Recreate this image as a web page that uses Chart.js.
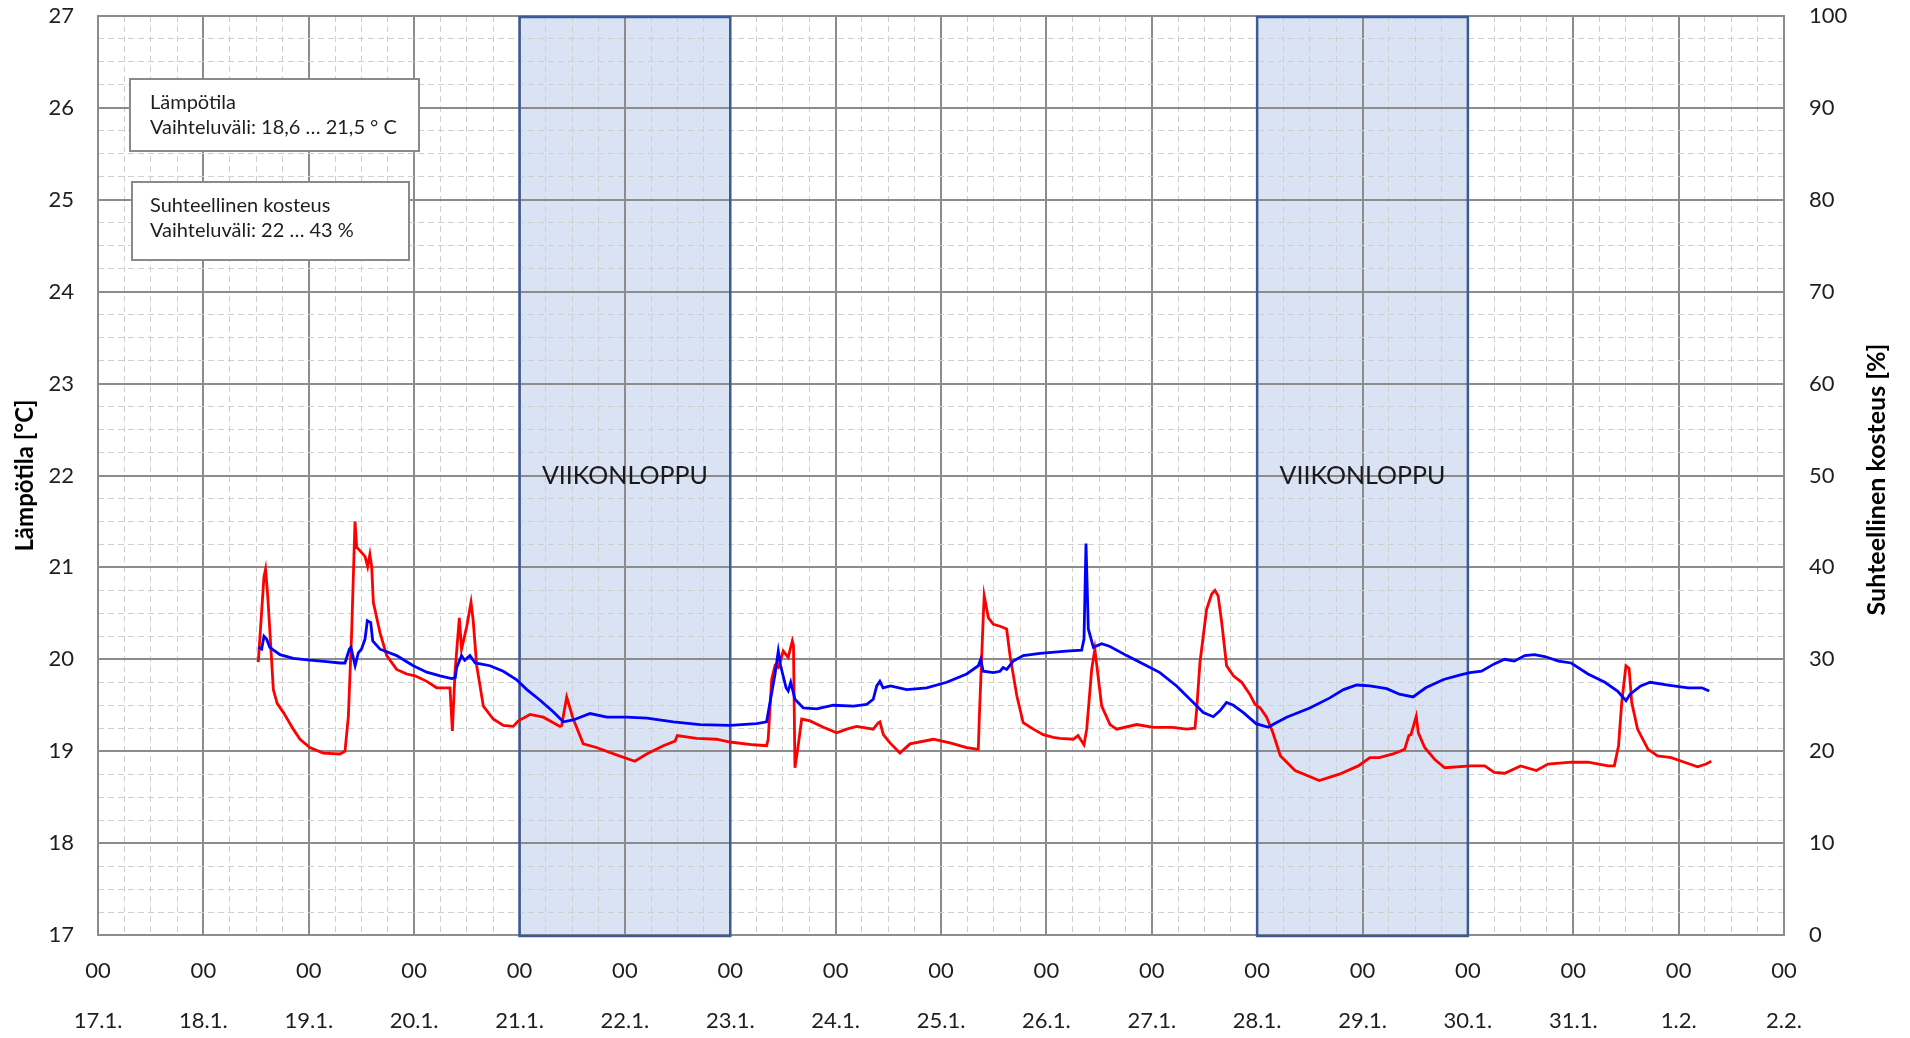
<!DOCTYPE html>
<html>
<head>
<meta charset="utf-8">
<script src="https://cdn.jsdelivr.net/npm/chart.js@4"></script>
<style>
  html, body { margin: 0; padding: 0; background: #ffffff; }
  #wrap { width: 1910px; height: 1038px; position: relative; }
</style>
</head>
<body>
<div id="wrap"><canvas id="c"></canvas></div>
<script>
// ---------- DATA ----------
// x values: days since 17.1. 00:00
const hourLabels = ['00','00','00','00','00','00','00','00','00','00','00','00','00','00','00','00','00'];
const dateLabels = ['17.1.','18.1.','19.1.','20.1.','21.1.','22.1.','23.1.','24.1.','25.1.','26.1.','27.1.','28.1.','29.1.','30.1.','31.1.','1.2.','2.2.'];

const weekendStart = [4, 11];
const weekendEnd = [6, 13];
const weekendText = ['VIIKONLOPPU', 'VIIKONLOPPU'];

const tempDays = [1.521,1.575,1.59,1.61,1.632,1.664,1.70,1.76,1.853,1.917,2.01,2.138,2.297,2.344,2.376,2.407,2.439,2.455,2.534,2.559,2.58,2.597,2.613,2.676,2.74,2.834,2.93,3.008,3.12,3.214,3.34,3.363,3.388,3.429,3.45,3.50,3.54,3.56,3.594,3.657,3.75,3.846,3.94,3.99,4.10,4.226,4.384,4.40,4.448,4.51,4.605,4.73,4.92,5.094,5.207,5.365,5.476,5.498,5.68,5.87,5.997,6.218,6.345,6.36,6.393,6.425,6.456,6.503,6.55,6.589,6.60,6.614,6.64,6.678,6.757,6.883,7.01,7.105,7.2,7.357,7.405,7.42,7.453,7.516,7.61,7.706,7.927,8.085,8.244,8.354,8.363,8.40,8.41,8.45,8.497,8.56,8.623,8.655,8.72,8.78,8.876,8.97,9.066,9.13,9.255,9.30,9.357,9.383,9.43,9.46,9.483,9.525,9.604,9.667,9.857,10.015,10.2,10.33,10.41,10.427,10.457,10.52,10.569,10.60,10.63,10.664,10.71,10.775,10.853,10.93,10.98,11.03,11.09,11.15,11.22,11.36,11.59,11.78,11.96,12.07,12.16,12.29,12.40,12.44,12.46,12.51,12.53,12.59,12.686,12.78,13.03,13.16,13.25,13.35,13.5,13.65,13.76,13.98,14.14,14.33,14.39,14.43,14.46,14.5,14.53,14.555,14.61,14.71,14.8,14.93,15.055,15.18,15.26,15.31];
const tempValues = [19.97,20.9,20.98,20.7,20.29,19.67,19.52,19.42,19.24,19.13,19.04,18.98,18.97,19.0,19.38,20.29,21.5,21.22,21.12,21.01,21.14,21.01,20.62,20.29,20.04,19.89,19.84,19.82,19.76,19.69,19.69,19.22,19.86,20.45,20.11,20.36,20.62,20.43,19.93,19.49,19.35,19.28,19.27,19.33,19.40,19.37,19.27,19.28,19.59,19.35,19.08,19.04,18.96,18.89,18.97,19.06,19.11,19.17,19.14,19.13,19.10,19.07,19.06,19.13,19.78,19.93,19.91,20.09,20.02,20.20,20.15,18.82,19.02,19.35,19.33,19.26,19.20,19.24,19.27,19.24,19.31,19.32,19.18,19.09,18.98,19.08,19.13,19.09,19.04,19.02,19.35,20.43,20.69,20.45,20.38,20.36,20.33,20.04,19.60,19.31,19.24,19.18,19.15,19.14,19.13,19.17,19.07,19.24,19.89,20.11,19.89,19.49,19.29,19.24,19.29,19.26,19.26,19.24,19.25,19.46,19.96,20.54,20.71,20.75,20.69,20.40,19.93,19.82,19.75,19.62,19.51,19.47,19.37,19.20,18.95,18.79,18.68,18.75,18.84,18.93,18.93,18.97,19.02,19.17,19.18,19.38,19.20,19.04,18.91,18.82,18.84,18.84,18.77,18.76,18.84,18.79,18.86,18.88,18.88,18.84,18.84,19.06,19.53,19.93,19.90,19.53,19.24,19.02,18.95,18.93,18.88,18.83,18.86,18.89];

const humDays = [1.521,1.553,1.575,1.60,1.63,1.727,1.853,2.01,2.17,2.297,2.344,2.385,2.40,2.44,2.47,2.50,2.534,2.556,2.588,2.607,2.676,2.834,2.992,3.12,3.246,3.356,3.39,3.404,3.45,3.48,3.53,3.58,3.72,3.846,3.97,4.07,4.19,4.32,4.416,4.51,4.67,4.83,5.016,5.21,5.46,5.713,6.0,6.25,6.345,6.377,6.425,6.456,6.478,6.53,6.55,6.574,6.598,6.614,6.693,6.82,6.978,7.17,7.295,7.357,7.39,7.42,7.45,7.52,7.675,7.864,8.054,8.244,8.354,8.377,8.40,8.497,8.56,8.59,8.623,8.686,8.78,8.94,9.19,9.335,9.357,9.376,9.398,9.446,9.525,9.604,9.762,9.952,10.077,10.236,10.394,10.489,10.584,10.647,10.71,10.775,10.87,10.99,11.106,11.15,11.28,11.5,11.69,11.82,11.945,12.07,12.23,12.35,12.48,12.6,12.77,12.93,13.02,13.13,13.25,13.35,13.44,13.54,13.63,13.73,13.86,13.98,14.14,14.3,14.42,14.5,14.54,14.64,14.73,14.9,15.09,15.22,15.29];
const humValues = [31.3,31.1,32.5,32.2,31.3,30.5,30.1,29.9,29.75,29.6,29.6,31.1,31.3,29.3,30.7,31.1,32.2,34.2,34.0,32.0,31.1,30.4,29.3,28.6,28.2,27.9,28.0,29.1,30.4,29.9,30.4,29.6,29.3,28.7,27.8,26.7,25.6,24.3,23.2,23.4,24.1,23.7,23.7,23.6,23.2,22.9,22.8,23.0,23.2,25.3,28.4,30.9,29.3,26.9,26.55,27.5,26.4,25.65,24.7,24.6,25.0,24.9,25.1,25.65,27.1,27.6,26.9,27.1,26.7,26.9,27.5,28.4,29.3,30.0,28.7,28.55,28.7,29.1,28.9,29.8,30.4,30.65,30.9,31.0,32.2,42.6,33.3,31.3,31.7,31.4,30.4,29.3,28.55,27.1,25.3,24.2,23.75,24.4,25.3,25.0,24.2,23.0,22.6,22.9,23.7,24.7,25.8,26.7,27.2,27.1,26.8,26.2,25.9,26.9,27.8,28.3,28.55,28.7,29.5,30.0,29.8,30.4,30.5,30.3,29.8,29.6,28.4,27.5,26.55,25.5,26.2,27.1,27.5,27.2,26.9,26.9,26.55];

const tempTitle = 'Lämpötila [°C]';
const humTitle = 'Suhteellinen kosteus [%]';
const noteLines = [
  ['Lämpötila', 'Vaihteluväli: 18,6 … 21,5 ° C'],
  ['Suhteellinen kosteus', 'Vaihteluväli: 22 … 43 %']
];

// ---------- STYLE ----------
const FONT = 'Lato, "Open Sans", "DejaVu Sans", sans-serif';
const MAJOR = '#8c8c8c';
const MINOR = '#cfcfcf';
const TEXT = '#1e1e1e';
const HIDDEN = 'rgba(0,0,0,0)';

const tempPoints = tempDays.map((d, i) => ({ x: d, y: tempValues[i] }));
const humPoints = humDays.map((d, i) => ({ x: d, y: humValues[i] }));

const decorPlugin = {
  id: 'decor',
  beforeDraw(chart) {
    const { ctx, chartArea: a, scales: { x } } = chart;
    ctx.save();
    ctx.fillStyle = '#dae3f3';
    weekendStart.forEach((s, i) => {
      const x0 = x.getPixelForValue(s), x1 = x.getPixelForValue(weekendEnd[i]);
      ctx.fillRect(x0, a.top, x1 - x0, a.bottom - a.top);
    });
    ctx.restore();
  },
  beforeDatasetsDraw(chart) {
    const { ctx, chartArea: a, scales: { x, y } } = chart;
    ctx.save();
    ctx.strokeStyle = '#3d5a96';
    ctx.lineWidth = 2.5;
    ctx.fillStyle = '#1a1a1a';
    ctx.font = '25px ' + FONT;
    ctx.textAlign = 'center';
    ctx.textBaseline = 'middle';
    weekendStart.forEach((s, i) => {
      const x0 = x.getPixelForValue(s), x1 = x.getPixelForValue(weekendEnd[i]);
      ctx.strokeRect(x0, a.top + 1, x1 - x0, a.bottom - a.top);
      ctx.fillText(weekendText[i], (x0 + x1) / 2, y.getPixelForValue(22));
    });
    ctx.restore();
  },
  afterDraw(chart) {
    const { ctx, chartArea: a } = chart;
    ctx.save();
    const boxes = [
      { dx: 32, dy: 63, w: 289, h: 72, b1: 93, b2: 118 },
      { dx: 34, dy: 166, w: 277, h: 78, b1: 196, b2: 221 }
    ];
    boxes.forEach((b, i) => {
      ctx.fillStyle = '#ffffff';
      ctx.fillRect(a.left + b.dx, a.top + b.dy, b.w, b.h);
      ctx.strokeStyle = '#8a8a8a';
      ctx.lineWidth = 2;
      ctx.strokeRect(a.left + b.dx, a.top + b.dy, b.w, b.h);
      ctx.fillStyle = TEXT;
      ctx.font = '20px ' + FONT;
      ctx.textAlign = 'left';
      ctx.textBaseline = 'alphabetic';
      ctx.fillText(noteLines[i][0], a.left + 52, a.top + b.b1);
      ctx.fillText(noteLines[i][1], a.left + 52, a.top + b.b2);
    });
    // right axis title, reading bottom to top
    ctx.translate(a.right + 93, (a.top + a.bottom) / 2 + 4);
    ctx.rotate(-Math.PI / 2);
    ctx.fillStyle = '#000000';
    ctx.font = 'bold 25px ' + FONT;
    ctx.textAlign = 'center';
    ctx.textBaseline = 'middle';
    ctx.fillText(humTitle, 0, 0);
    ctx.restore();
  }
};

new Chart(document.getElementById('c'), {
  type: 'line',
  data: {
    datasets: [
      { label: 'Suhteellinen kosteus', data: humPoints, yAxisID: 'y2', xAxisID: 'x',
        borderColor: '#0000ff', borderWidth: 2.8, pointRadius: 0, tension: 0, order: 0 },
      { label: 'Lämpötila', data: tempPoints, yAxisID: 'y', xAxisID: 'x',
        borderColor: '#ff0000', borderWidth: 2.8, pointRadius: 0, tension: 0, order: 1 }
    ]
  },
  options: {
    responsive: true,
    maintainAspectRatio: false,
    animation: false,
    events: [],
    layout: { padding: { top: 16, left: 0, right: 0, bottom: 0 } },
    plugins: { legend: { display: false }, tooltip: { enabled: false } },
    scales: {
      xMinor: {
        type: 'linear', position: 'bottom', min: 0, max: 16,
        ticks: { display: false, stepSize: 0.25 },
        grid: { drawTicks: false, color: c => (c.tick && Math.abs(c.tick.value % 1) < 1e-6) ? HIDDEN : MINOR, lineWidth: 1 },
        border: { display: false, dash: [6, 4] },
        afterFit: s => { s.height = 0; }
      },
      x: {
        type: 'linear', position: 'bottom', min: 0, max: 16,
        ticks: {
          stepSize: 1, autoSkip: false, maxRotation: 0, minRotation: 0, padding: 0,
          color: TEXT, font: { family: FONT, size: 22, lineHeight: '50px' },
          callback: (v) => [hourLabels[Math.round(v)], dateLabels[Math.round(v)]]
        },
        grid: { drawTicks: true, tickLength: 11, tickColor: HIDDEN, color: MAJOR, lineWidth: 2 },
        border: { color: MAJOR, width: 2 },
        afterFit: s => { s.height = 103; }
      },
      yMinor: {
        type: 'linear', position: 'left', min: 17, max: 27,
        ticks: { display: false, stepSize: 0.25 },
        grid: { drawTicks: false, color: c => (c.tick && Math.abs(c.tick.value % 1) < 1e-6) ? HIDDEN : MINOR, lineWidth: 1 },
        border: { display: false, dash: [6, 4] },
        afterFit: s => { s.width = 0; }
      },
      y: {
        type: 'linear', position: 'left', min: 17, max: 27,
        ticks: { stepSize: 1, padding: 0, color: TEXT, font: { family: FONT, size: 22 } },
        grid: { drawTicks: true, tickLength: 24, tickColor: HIDDEN, color: MAJOR, lineWidth: 2 },
        border: { color: MAJOR, width: 2 },
        title: { display: true, text: tempTitle, color: '#000000', font: { family: FONT, size: 24, weight: 'bold' }, padding: { top: 11, bottom: 0 } },
        afterFit: s => { s.width = 98; }
      },
      y2: {
        type: 'linear', position: 'right', min: 0, max: 100,
        ticks: { stepSize: 10, padding: 0, color: TEXT, font: { family: FONT, size: 22 } },
        grid: { display: true, drawOnChartArea: false, drawTicks: true, tickLength: 25, tickColor: HIDDEN },
        border: { color: MAJOR, width: 2 },
        afterFit: s => { s.width = 126; }
      }
    }
  },
  plugins: [decorPlugin]
});
</script>
</body>
</html>
